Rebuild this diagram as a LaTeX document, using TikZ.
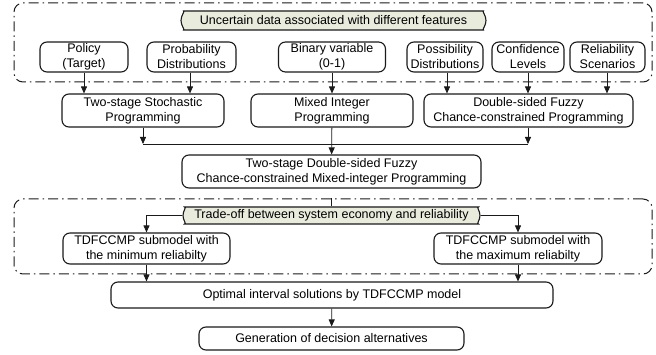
\documentclass[tikz,border=0pt]{standalone}
\usepackage{fontspec}
\setmainfont{Liberation Sans}
\usepackage{tikz}
\usetikzlibrary{arrows.meta,positioning,shapes.misc}
\definecolor{cInk}{HTML}{1A1A1A}
\definecolor{cPill}{HTML}{E9EBDD}
\tikzset{
  >={Triangle[length=7pt,width=6pt]},
  box/.style   ={rounded corners=7pt,draw=cInk,line width=1.1pt,fill=white,
                 align=center,inner sep=1pt,font=\fontsize{12.5}{15}\selectfont},
  pill/.style  ={box,rounded rectangle,fill=cPill},
  frame/.style ={draw=cInk,line width=1pt,rounded corners=9pt,
                 dash pattern=on 10pt off 4pt on 1.5pt off 4pt},
  ar/.style    ={->,line width=0.8pt,cInk},
  ln/.style    ={line width=0.8pt,cInk},
}
\begin{document}
\begin{tikzpicture}[x=1pt,y=-1pt]
\useasboundingbox (0,0) rectangle (656,355);
% frames
\node[frame,minimum width=638,minimum height=79] (top) at (333,42.5) {};
\node[frame,minimum width=638,minimum height=75] (low) at (333,236.5) {};
% uncertain data
\node[pill,minimum width=307,minimum height=19] (hdr) at (333.5,20.5) {Uncertain data associated with different features};
\node[box,minimum width=88,minimum height=30]  (pol) at (84,57)    {Policy\\(Target)};
\node[box,minimum width=89,minimum height=30]  (prb) at (191.5,57) {Probability\\Distributions};
\node[box,minimum width=107,minimum height=30] (bin) at (332,57)   {Binary variable\\(0-1)};
\node[box,minimum width=76,minimum height=30]  (pos) at (445,57)   {Possibility\\Distributions};
\node[box,minimum width=72,minimum height=30]  (cnf) at (528,57)   {Confidence\\Levels};
\node[box,minimum width=75,minimum height=30]  (rel) at (607.5,57) {Reliability\\Scenarios};
% methods
\node[box,minimum width=162,minimum height=33] (tss) at (143,110.5)   {Two-stage Stochastic\\Programming};
\node[box,minimum width=162,minimum height=33] (mip) at (332,110.5)   {Mixed Integer\\Programming};
\node[box,minimum width=209,minimum height=33] (dfc) at (528.5,110.5) {Double-sided Fuzzy\\Chance-constrained Programming};
\node[box,minimum width=299,minimum height=33] (tdf) at (331.5,171.5)
  {Two-stage Double-sided Fuzzy\\Chance-constrained Mixed-integer Programming};
% trade-off
\node[pill,minimum width=299,minimum height=17] (trd) at (331.5,215.5) {Trade-off between system economy and reliability};
\node[box,minimum width=167,minimum height=31] (smin) at (146.5,248.5) {TDFCCMP submodel with\\the minimum reliabilty};
\node[box,minimum width=168,minimum height=31] (smax) at (518,248.5)   {TDFCCMP submodel with\\the maximum reliabilty};
\node[box,minimum width=442,minimum height=26] (opt) at (332,295)   {Optimal interval solutions by TDFCCMP model};
\node[box,minimum width=265,minimum height=23] (gen) at (331.5,338.5) {Generation of decision alternatives};
\coordinate (jl) at (143,144);
\coordinate (jr) at (528,144);
% connectors
\draw[ar] (pol) -- (pol.south |- tss.north);
\draw[ar] (prb.south -| 190,0) -- (190,0 |- tss.north);
\draw[ar] (bin) -- (mip);
\draw[ar] (pos.south -| 447,0) -- (447,0 |- dfc.north);
\draw[ar] (cnf) -- (cnf.south |- dfc.north);
\draw[ar] (rel.south -| 607,0) -- (607,0 |- dfc.north);
\draw[ar] (tss.south -| jl) -- (jl);
\draw[ar] (dfc.south -| jr) -- (jr);
\draw[ln] (jl) -- (jr);
\draw[ar] (mip) -- (tdf);
\draw[ln] (trd.north) -- (trd.north |- low.north);
\draw[ar] (trd.west) -| (smin.north);
\draw[ar] (trd.east) -| (smax.north);
\draw[ar] (smin) -- (smin.south |- opt.north);
\draw[ar] (smax) -- (smax.south |- opt.north);
\draw[ar] (opt) -- (gen);
\end{tikzpicture}
\end{document}
